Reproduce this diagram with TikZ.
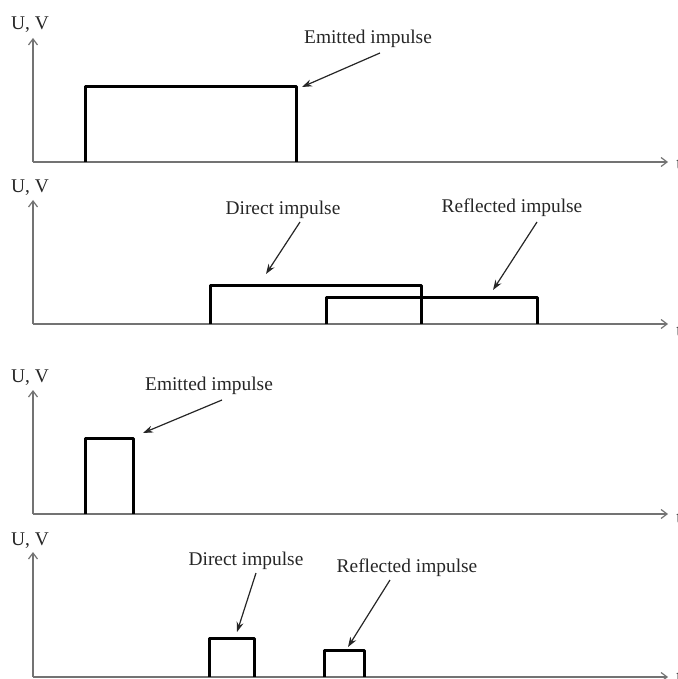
\documentclass[tikz,border=0pt]{standalone}
\usepackage{fontspec}
\setmainfont{Liberation Serif}
\usetikzlibrary{arrows.meta}
\tikzset{
	axis/.style={draw=black!55, line width=0.6pt, -{Straight Barb[length=3pt,width=4.5pt]}},
	pulse/.style={draw=black, line width=1.5pt, line join=round},
	note/.style={draw=black!85, line width=0.6pt, -{Stealth[length=5pt,width=3.5pt]}},
	lbl/.style={text=black!85, inner sep=0pt, anchor=base, font=\fontsize{9.7}{11}\selectfont}
}

\begin{document}
\begin{tikzpicture}[x=0.5pt, y=-0.5pt]
	\useasboundingbox (0,0) rectangle (678,679);

	% Axes (name / time axis / top of U axis / label baseline / t baseline)
	\foreach \n/\yb/\yt/\yl/\ys in {a/162/38/30/170, b/324/200/192/336, c/514/390/382/523, d/677/552/545/682} {
		\coordinate (o\n) at (33,\yb);
		\coordinate (u\n) at (33,\yt);
		\coordinate (t\n) at (668,\yb);
		\draw[axis] (o\n) -- (u\n);
		\draw[axis] (o\n) -- (t\n);
		\node[lbl] (U\n) at (30,\yl) {U, V};
		\node[lbl, anchor=base west] (T\n) at (676,\ys) {t};
	}

	% Long impulses
	\draw[pulse] (85,162) -- (85,87) -- (296,87) -- (296,162);
	\draw[pulse] (210,324) -- (210,285) -- (421,285) -- (421,324);
	\draw[pulse] (326,324) -- (326,297) -- (537,297) -- (537,324);

	% Short impulses
	\draw[pulse] (85,514) -- (85,438) -- (133,438) -- (133,514);
	\draw[pulse] (209,677) -- (209,638) -- (254,638) -- (254,677);
	\draw[pulse] (324,677) -- (324,650) -- (364,650) -- (364,677);

	% Labels
	\node[lbl] (ea) at (368,44) {Emitted impulse};
	\node[lbl] (db) at (283,214) {Direct impulse};
	\node[lbl] (rb) at (512,213) {Reflected impulse};
	\node[lbl] (ec) at (209,390) {Emitted impulse};
	\node[lbl] (dd) at (246,565) {Direct impulse};
	\node[lbl] (rd) at (407,572) {Reflected impulse};

	% Pointers
	\coordinate (hea) at (302,87);
	\coordinate (hdb) at (266,274);
	\coordinate (hrb) at (493,290);
	\coordinate (hec) at (143,433);
	\coordinate (hdd) at (237,632);
	\coordinate (hrd) at (348,647);
	\draw[note] ([shift={(12,9)}]ea.base) -- (hea);
	\draw[note] ([shift={(17,8)}]db.base) -- (hdb);
	\draw[note] ([shift={(25,9)}]rb.base) -- (hrb);
	\draw[note] ([shift={(13,10)}]ec.base) -- (hec);
	\draw[note] ([shift={(10,8)}]dd.base) -- (hdd);
	\draw[note] ([shift={(-17,8)}]rd.base) -- (hrd);

\end{tikzpicture}
\end{document}
